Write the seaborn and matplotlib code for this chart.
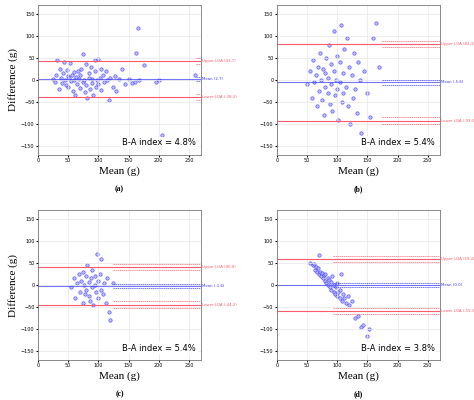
import matplotlib
matplotlib.use("Agg")
import matplotlib.pyplot as plt
import seaborn as sns
import pandas as pd

a_x = [25,28,30,32,35,36,38,40,42,44,45,47,48,50,50,52,53,55,56,58,60,60,62,63,65,66,68,70,70,72,74,75,76,78,80,80,82,84,85,86,88,90,90,92,94,95,96,98,100,100,102,104,105,108,110,112,115,118,120,125,128,130,135,140,145,150,155,160,162,165,168,175,195,200,205,260]
a_y = [2,-5,10,45,-20,25,5,-8,15,40,0,-12,22,8,-15,5,38,-3,12,-25,18,0,-35,6,-10,20,3,10,-18,25,-5,58,0,-28,35,-12,-40,5,15,-20,30,2,-8,-35,20,45,-15,0,-10,48,5,25,-22,12,-5,20,0,-45,5,-15,8,-25,3,25,-10,2,-8,-5,62,118,0,33,-5,0,-125,12]
b_x = [50,55,58,60,62,65,66,68,70,72,74,75,76,78,80,80,82,84,85,86,88,90,90,92,94,95,96,98,100,100,102,104,105,106,108,110,110,112,115,116,118,120,122,125,126,128,130,132,135,138,140,145,150,155,160,165,170]
b_y = [-10,20,-40,45,-5,10,-60,30,-25,60,0,-45,25,-80,15,-15,50,-30,5,80,-55,35,-10,-70,20,110,-35,0,55,-20,-90,40,-5,125,-50,15,-30,70,-15,95,-60,30,-100,10,-40,60,-20,-75,40,0,-120,20,-30,-85,95,130,30]
c_x = [55,60,62,65,68,70,72,74,75,76,78,80,80,82,84,85,86,88,90,90,92,94,95,96,98,100,100,102,104,105,108,110,112,115,118,120,125]
c_y = [-5,15,-30,5,25,-15,10,-40,30,0,-20,20,-10,45,-25,8,-35,15,-5,35,-45,20,0,-15,70,10,-30,25,-10,60,-20,5,-40,15,-60,-80,5]
d_x = [55,60,62,64,65,66,68,70,70,72,74,75,76,78,80,80,82,84,85,86,88,90,90,92,94,95,96,98,100,100,102,104,105,106,108,110,112,115,118,120,125,130,135,140,142,150,152]
d_y = [50,45,48,35,40,30,38,68,25,30,20,28,15,22,10,25,5,15,0,12,-5,8,-10,20,-15,0,-20,-5,-25,5,-15,-30,-10,25,-35,-20,-30,-40,-25,-45,-35,-75,-70,-95,-90,-115,-100]

panels = [
    ("(a)", a_x, a_y, 2.7, 43.7, -38.3, None, "4.8%"),
    ("(b)", b_x, b_y, -5.6, 82.3, -92.3, 175, "5.4%"),
    ("(c)", c_x, c_y, -1.6, 40.9, -44.2, 125, "5.4%"),
    ("(d)", d_x, d_y, 0.0, 59.4, -59.3, 93, "3.8%"),
]

fig, axes = plt.subplots(2, 2, figsize=(4.74, 4.0), dpi=100)
plt.subplots_adjust(left=0.08, right=0.928, top=0.9875, bottom=0.1, wspace=0.465, hspace=0.37)
blue = "#3a3aff"; red = "#ff5a6a"
for i, (ax, (lab, xs, ys, m, up, lo, cis, idx)) in enumerate(zip(axes.flat, panels)):
    df = pd.DataFrame({"x": xs, "y": ys})
    sns.scatterplot(data=df, x="x", y="y", ax=ax, s=6, marker="o",
                    facecolor="#b0b0ff", edgecolor=blue, linewidth=0.5, alpha=0.8)
    ax.axhline(m, color=blue, lw=0.8, alpha=0.7)
    ax.axhline(up, color=red, lw=0.8)
    ax.axhline(lo, color=red, lw=0.8)
    start = cis if cis else 262
    for v, c, w in [(m, blue, 5), (up, red, 7), (lo, red, 7)]:
        for d in (-w, w):
            ax.plot([start, 270], [v + d, v + d], color=c, ls=(0, (2, 1)), lw=0.5)
    ax.set_xlim(0, 270); ax.set_ylim(-170, 170)
    ax.set_xticks([0, 50, 100, 150, 200, 250]); ax.set_yticks([-150, -100, -50, 0, 50, 100, 150])
    ax.tick_params(labelsize=3.5, length=1.5, pad=1)
    ax.grid(color="#e6e6e6", lw=0.5)
    for s in ax.spines.values():
        s.set_color("#777777"); s.set_linewidth(0.6)
    ax.set_xlabel("Mean (g)", family="Liberation Serif", fontsize=8, labelpad=2)
    ax.set_ylabel("Difference (g)" if i % 2 == 0 else "", family="Liberation Serif", fontsize=8, labelpad=2)
    for v, t, c in [(up, f"Upper LOA ({up})", red), (m, f"Mean ({m})", blue), (lo, f"Lower LOA ({lo})", red)]:
        ax.text(272, v, t, fontsize=2.8, color=c, va="center", clip_on=False)
    ax.text(0.97, 0.05, f"B-A index = {idx}", transform=ax.transAxes, ha="right", va="bottom",
            fontsize=6, bbox=dict(facecolor="white", edgecolor="none", pad=1))
    ax.text(0.5, -0.24, lab, transform=ax.transAxes, ha="center", fontsize=5.5,
            fontweight="bold", family="Liberation Serif")
fig.savefig("out.png", dpi=100)
